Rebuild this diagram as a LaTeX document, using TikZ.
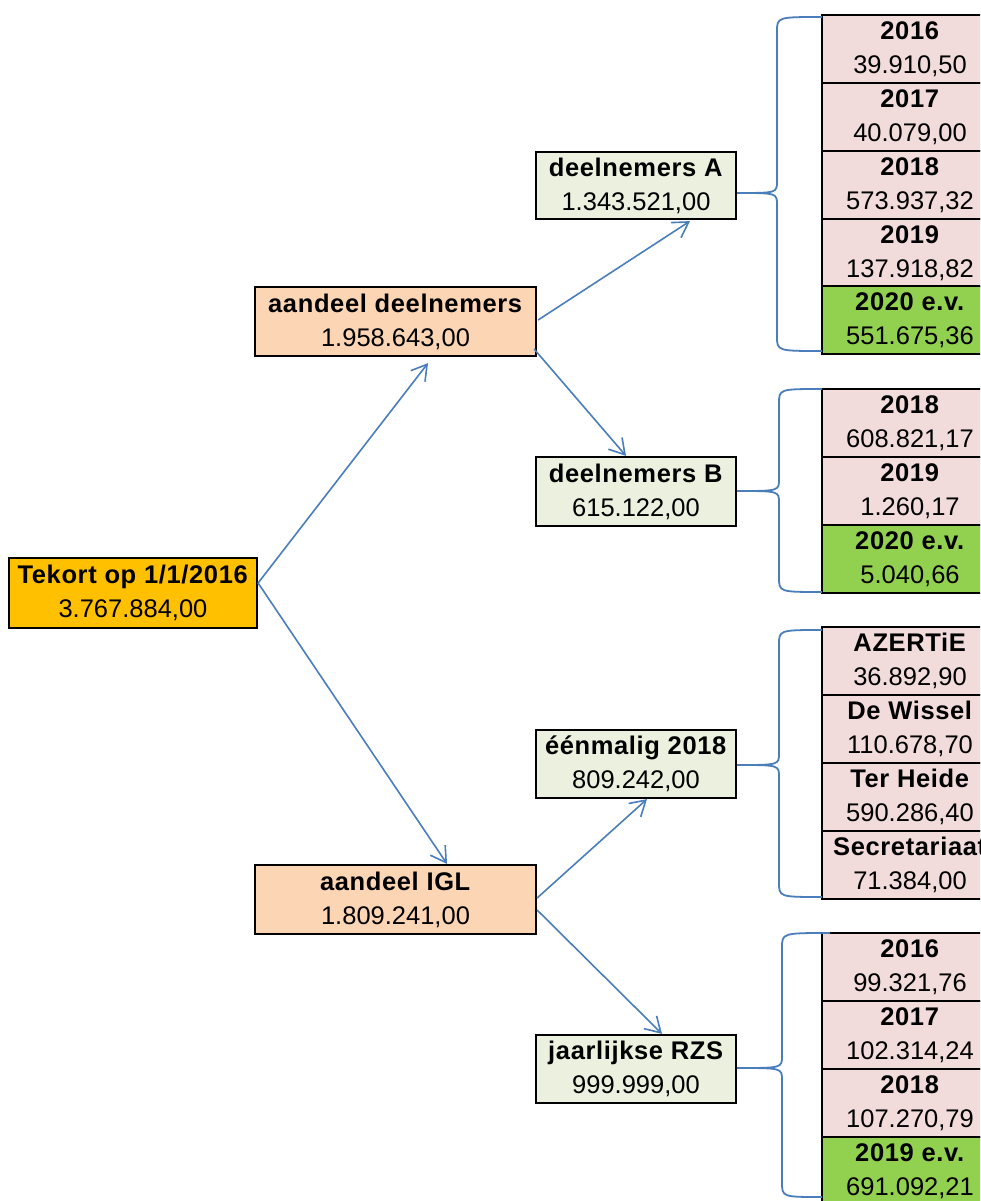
\documentclass[tikz,border=0pt]{standalone}
\usepackage{fontspec}
\setmainfont{Liberation Sans}[BoldFeatures={LetterSpace=2.5}]
\usetikzlibrary{arrows.meta,calc}
\definecolor{cTek}{HTML}{FFC000}
\definecolor{cPeach}{HTML}{FCD5B5}
\definecolor{cSage}{HTML}{EBF1DE}
\definecolor{cPink}{HTML}{F2DCDB}
\definecolor{cGreen}{HTML}{92D050}
\definecolor{cBlue}{HTML}{4A7EBB}
\newcommand\cellbox[5]{\node[cellnode, fill=#3] (#1) at (910,#2+34) {\textbf{#4}\\#5};}
\begin{document}
\begin{tikzpicture}[x=1pt,y=-1pt,
  every node/.style={font=\fontsize{25.5}{34}\selectfont, align=center, inner sep=0pt},
  boxnode/.style={draw=black, line width=2.2pt, minimum height=69pt},
  cellnode/.style={draw=black, line width=2pt, minimum width=176pt, minimum height=68pt},
  arr/.style={draw=cBlue, line width=1.6pt, -{Straight Barb[length=15pt,width=18pt,line width=1.6pt]}},
  bracestyle/.style={draw=cBlue, line width=1.8pt}]
\useasboundingbox (0,0) rectangle (980,1201);
\clip (0,0) rectangle (980,1201);

% main boxes
\node[boxnode, fill=cTek, minimum width=248pt, minimum height=70pt] (tek) at (133,593) {\textbf{Tekort op 1/1/2016}\\3.767.884,00};
\node[boxnode, fill=cPeach, minimum width=281pt] (ad) at (395.5,321.5) {\textbf{aandeel deelnemers}\\1.958.643,00};
\node[boxnode, fill=cPeach, minimum width=281pt] (ai) at (395.5,899.5) {\textbf{aandeel IGL}\\1.809.241,00};
\node[boxnode, fill=cSage, minimum width=200pt, minimum height=67pt] (dA) at (636,185.5) {\textbf{deelnemers A}\\1.343.521,00};
\node[boxnode, fill=cSage, minimum width=200pt] (dB) at (636,491.5) {\textbf{deelnemers B}\\615.122,00};
\node[boxnode, fill=cSage, minimum width=200pt, minimum height=68pt] (e18) at (636,764) {\textbf{éénmalig 2018}\\809.242,00};
\node[boxnode, fill=cSage, minimum width=200pt, minimum height=68pt] (rzs) at (636,1069) {\textbf{jaarlijkse RZS}\\999.999,00};

% arrows
\draw[arr] ($(tek.east)+(0,-10)$) -- ($(ad.south)+(32.5,6)$);
\draw[arr] ($(tek.east)+(0,-10)$) -- ($(ai.north)+(51.5,0)$);
\draw[arr] ($(ad.east)+(1,-1.5)$) -- ($(dA.south)+(54,1)$);
\draw[arr] ($(ad.east)+(-3,27.5)$) -- ($(dB.north)+(-10,0)$);
\draw[arr] ($(ai.east)+(0,-1.5)$) -- ($(e18.south)+(11,0)$);
\draw[arr] ($(ai.east)+(0,10.5)$) -- ($(rzs.north)+(26,0)$);

% group 1
\cellbox{a16}{15}{cPink}{2016}{39.910,50}
\cellbox{a17}{83}{cPink}{2017}{40.079,00}
\cellbox{a18}{151}{cPink}{2018}{573.937,32}
\cellbox{a19}{219}{cPink}{2019}{137.918,82}
\cellbox{a20}{286}{cGreen}{2020 e.v.}{551.675,36}
% group 2
\cellbox{b18}{389}{cPink}{2018}{608.821,17}
\cellbox{b19}{457}{cPink}{2019}{1.260,17}
\cellbox{b20}{525}{cGreen}{2020 e.v.}{5.040,66}
% group 3
\cellbox{c1}{627}{cPink}{AZERTiE}{36.892,90}
\cellbox{c2}{695}{cPink}{De Wissel}{110.678,70}
\cellbox{c3}{763}{cPink}{Ter Heide}{590.286,40}
\cellbox{c4}{831}{cPink}{Secretariaat}{71.384,00}
% group 4
\cellbox{r16}{933}{cPink}{2016}{99.321,76}
\cellbox{r17}{1001}{cPink}{2017}{102.314,24}
\cellbox{r18}{1069}{cPink}{2018}{107.270,79}
\cellbox{r19}{1137}{cGreen}{2019 e.v.}{691.092,21}

% braces
\coordinate (tA) at ($(dA.east)+(0,7.5)$);
\coordinate (tB) at ($(dB.east)+(0,-0.5)$);
\coordinate (tC) at ($(e18.east)+(0,1)$);
\coordinate (tD) at ($(rzs.east)+(0,-1)$);
\draw[bracestyle] (822,17) .. controls (777,17) .. (777,32) -- (777,181) .. controls (777,193) .. (tA) .. controls (777,193) .. (777,205) -- (777,336) .. controls (777,351) .. (822,351);
\draw[bracestyle] (822,389) .. controls (779,389) .. (779,404) -- (779,479) .. controls (779,491) .. (tB) .. controls (779,491) .. (779,503) -- (779,577) .. controls (779,592) .. (822,592);
\draw[bracestyle] (822,630) .. controls (779,630) .. (779,645) -- (779,753) .. controls (779,765) .. (tC) .. controls (779,765) .. (779,777) -- (779,882) .. controls (779,897) .. (822,897);
\draw[bracestyle] (830,933) .. controls (782,933) .. (782,948) -- (782,1056) .. controls (782,1068) .. (tD) .. controls (782,1068) .. (782,1080) -- (782,1182) .. controls (782,1197) .. (822,1197);
\end{tikzpicture}
\end{document}
